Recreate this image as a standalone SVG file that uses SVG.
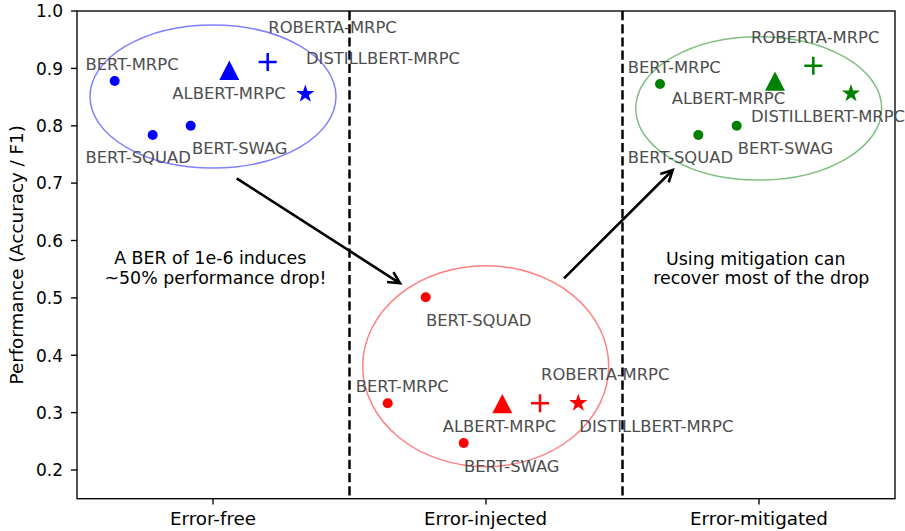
<svg xmlns="http://www.w3.org/2000/svg" width="905" height="531" viewBox="0 0 905 531">
<style>
text{font-family:"DejaVu Sans","Liberation Sans",sans-serif}
.tick{font-size:17px;fill:#000}
.xt{font-size:18.3px;fill:#000}
.lab{font-size:16.4px;fill:#4d4d4d}
.ann{font-size:17.4px;fill:#000;text-anchor:middle}
.spine{fill:none;stroke:#000;stroke-width:1.35}
.tk{stroke:#000;stroke-width:1.35}
.sep{stroke:#000;stroke-width:2.5;stroke-dasharray:9.2,4}
.arr{fill:none;stroke:#000;stroke-width:2.6;stroke-linecap:butt}
.b{fill:#0000ff}.r{fill:#ff0000}.g{fill:#008000}
.pb{stroke:#0000ff;stroke-width:2.5;fill:none}
.pr{stroke:#ff0000;stroke-width:2.5;fill:none}
.pg{stroke:#008000;stroke-width:2.5;fill:none}
</style>
<defs>
<path id="star" d="M0,-9.6 L2.16,-2.97 L9.13,-2.97 L3.49,1.13 L5.64,7.77 L0,3.67 L-5.64,7.77 L-3.49,1.13 L-9.13,-2.97 L-2.16,-2.97 Z"/>
<path id="tri" d="M0,-9.8 L10,9.6 L-10,9.6 Z"/>
<path id="plus" d="M-9,0 H9 M0,-9 V9"/>
</defs>
<rect width="905" height="531" fill="#fff"/>
<g id="axes">
<rect class="spine" x="77" y="11" width="818" height="487.7"/>
<g class="tk">
<line x1="71" y1="11" x2="77" y2="11"/>
<line x1="71" y1="68.4" x2="77" y2="68.4"/>
<line x1="71" y1="125.8" x2="77" y2="125.8"/>
<line x1="71" y1="183.1" x2="77" y2="183.1"/>
<line x1="71" y1="240.5" x2="77" y2="240.5"/>
<line x1="71" y1="297.9" x2="77" y2="297.9"/>
<line x1="71" y1="355.3" x2="77" y2="355.3"/>
<line x1="71" y1="412.6" x2="77" y2="412.6"/>
<line x1="71" y1="470" x2="77" y2="470"/>
<line x1="213" y1="498.7" x2="213" y2="504.6"/>
<line x1="486" y1="498.7" x2="486" y2="504.6"/>
<line x1="759" y1="498.7" x2="759" y2="504.6"/>
</g>
<g class="tick" text-anchor="end">
<text x="63" y="17.2">1.0</text>
<text x="63" y="74.6">0.9</text>
<text x="63" y="132">0.8</text>
<text x="63" y="189.3">0.7</text>
<text x="63" y="246.7">0.6</text>
<text x="63" y="304.1">0.5</text>
<text x="63" y="361.5">0.4</text>
<text x="63" y="418.8">0.3</text>
<text x="63" y="476.2">0.2</text>
</g>
<g class="xt" text-anchor="middle">
<text x="213" y="525.3">Error-free</text>
<text x="485.5" y="525.3">Error-injected</text>
<text x="759" y="525.3">Error-mitigated</text>
</g>
<text class="xt" text-anchor="middle" transform="translate(22.8,254.8) rotate(-90)">Performance (Accuracy / F1)</text>
<line class="sep" x1="349.5" y1="11" x2="349.5" y2="498.7"/>
<line class="sep" x1="622.5" y1="11" x2="622.5" y2="498.7"/>
</g>
<g id="cluster-free">
<ellipse cx="213" cy="96.5" rx="123" ry="71.5" fill="none" stroke="#8080ff" stroke-width="1.5"/>
<g id="free-bert-mrpc"><circle class="b" cx="114.7" cy="81" r="5"/><text class="lab" x="85.5" y="70">BERT-MRPC</text></g>
<g id="free-bert-squad"><circle class="b" cx="152.7" cy="135" r="5"/><text class="lab" x="85.5" y="163.3">BERT-SQUAD</text></g>
<g id="free-bert-swag"><circle class="b" cx="190.7" cy="125.7" r="5"/><text class="lab" x="192" y="154">BERT-SWAG</text></g>
<g id="free-albert"><use href="#tri" class="b" x="229.3" y="70.3"/><text class="lab" x="172.3" y="99">ALBERT-MRPC</text></g>
<g id="free-roberta"><use href="#plus" class="pb" x="267.7" y="62"/><text class="lab" x="268.3" y="32.7">ROBERTA-MRPC</text></g>
<g id="free-distill"><use href="#star" class="b" x="305.3" y="94"/><text class="lab" x="306" y="64">DISTILLBERT-MRPC</text></g>
</g>
<g id="cluster-injected">
<ellipse cx="485.7" cy="366.2" rx="123" ry="100.5" fill="none" stroke="#ff8080" stroke-width="1.5"/>
<g id="inj-bert-squad"><circle class="r" cx="425.7" cy="297.3" r="5"/><text class="lab" x="426" y="326">BERT-SQUAD</text></g>
<g id="inj-bert-mrpc"><circle class="r" cx="387.7" cy="403.3" r="5"/><text class="lab" x="355.7" y="392">BERT-MRPC</text></g>
<g id="inj-bert-swag"><circle class="r" cx="463.7" cy="443" r="5"/><text class="lab" x="464" y="471.7">BERT-SWAG</text></g>
<g id="inj-albert"><use href="#tri" class="r" x="502.3" y="403.7"/><text class="lab" x="442.7" y="431.7">ALBERT-MRPC</text></g>
<g id="inj-roberta"><use href="#plus" class="pr" x="540" y="403.3"/><text class="lab" x="541" y="380">ROBERTA-MRPC</text></g>
<g id="inj-distill"><use href="#star" class="r" x="578.3" y="403"/><text class="lab" x="579.3" y="431.7">DISTILLBERT-MRPC</text></g>
</g>
<g id="cluster-mitigated">
<ellipse cx="758.7" cy="108.4" rx="123" ry="71.7" fill="none" stroke="#80c080" stroke-width="1.5"/>
<g id="mit-bert-mrpc"><circle class="g" cx="660" cy="84" r="5"/><text class="lab" x="627.7" y="72.7">BERT-MRPC</text></g>
<g id="mit-bert-squad"><circle class="g" cx="698.3" cy="135" r="5"/><text class="lab" x="627.7" y="163.3">BERT-SQUAD</text></g>
<g id="mit-bert-swag"><circle class="g" cx="736.7" cy="125.7" r="5"/><text class="lab" x="737.7" y="154.3">BERT-SWAG</text></g>
<g id="mit-albert"><use href="#tri" class="g" x="775" y="81.2"/><text class="lab" x="671.7" y="104">ALBERT-MRPC</text></g>
<g id="mit-roberta"><use href="#plus" class="pg" x="813.3" y="65.7"/><text class="lab" x="751" y="42.7">ROBERTA-MRPC</text></g>
<g id="mit-distill"><use href="#star" class="g" x="851" y="93.5"/><text class="lab" x="751" y="122.3">DISTILLBERT-MRPC</text></g>
</g>
<g id="annotations">
<text class="ann" x="210.2" y="264">A BER of 1e-6 induces</text>
<text class="ann" x="215.5" y="283.5">~50% performance drop!</text>
<text class="ann" x="755.8" y="265">Using mitigation can</text>
<text class="ann" x="761.3" y="284.3">recover most of the drop</text>
</g>
<g id="connectors">
<path class="arr" d="M236.7,178.3 L400,283.3 M393.4,272.1 L400,283.3 L387.1,282"/>
<path class="arr" d="M564,278.3 L672.7,170 M660.3,174 L672.7,170 L668.7,182.4"/>
</g>
</svg>
